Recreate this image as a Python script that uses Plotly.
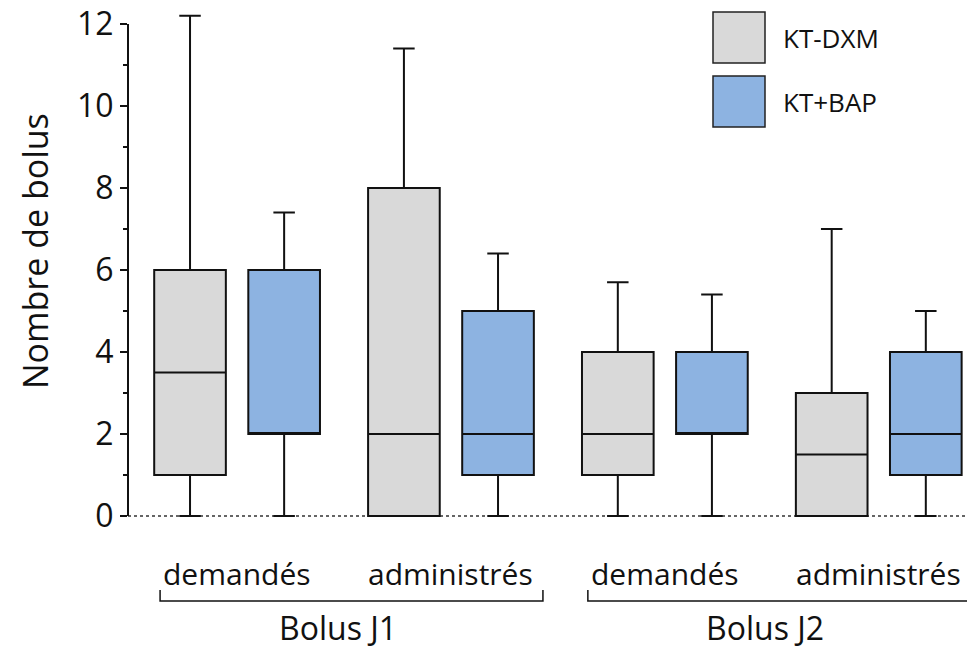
import plotly.graph_objects as go

# ---- data ----
groups = ["Bolus J1", "Bolus J2"]
subcats = ["demandés", "administrés"]
series_names = ["KT-DXM", "KT+BAP"]
# order: J1 demandés, J1 administrés, J2 demandés, J2 administrés
dxm_low = [0, 0, 0, 0]
dxm_q1 = [1, 0, 1, 0]
dxm_med = [3.5, 2, 2, 1.5]
dxm_q3 = [6, 8, 4, 3]
dxm_high = [12.2, 11.4, 5.7, 7.0]

bap_low = [0, 0, 0, 0]
bap_q1 = [2, 1, 2, 1]
bap_med = [2, 2, 2, 2]
bap_q3 = [6, 5, 4, 4]
bap_high = [7.4, 6.4, 5.4, 5.0]

y_ticks = [0, 2, 4, 6, 8, 10, 12]

colors = ["#D9D9D9", "#8DB3E1"]
FONT = "Open Sans"
TXT = "#111111"

# numeric positions of the sub-categories
centers = [1 + i for i in range(len(groups) * len(subcats))]
offset = 0.22
bw = 0.335

fig = go.Figure()
stats = [
    (dxm_low, dxm_q1, dxm_med, dxm_q3, dxm_high),
    (bap_low, bap_q1, bap_med, bap_q3, bap_high),
]
for k, (lo, q1, med, q3, hi) in enumerate(stats):
    xs = [c + (offset if k else -offset) for c in centers]
    fig.add_trace(go.Box(
        x=xs, q1=q1, median=med, q3=q3, lowerfence=lo, upperfence=hi,
        name=series_names[k], fillcolor=colors[k],
        line=dict(color=TXT, width=2), width=bw, whiskerwidth=0.3,
        boxpoints=False, showlegend=False, hoverinfo="skip",
    ))

# plot area: 510 px tall (paper units), 847 px wide
PH, PW = 510.0, 847.0

def py(page_y):
    # page pixel y -> paper y (plot bottom is at page y 518)
    return (518 - page_y) / PH

def px(page_x):
    return (page_x - 128) / PW

shapes = []
annotations = []
# zero dotted line
shapes.append(dict(type="line", xref="paper", yref="y", x0=0, x1=1, y0=0, y1=0,
                   line=dict(color="#333333", width=1.5, dash="dot"), layer="below"))
# y axis line
shapes.append(dict(type="line", xref="paper", yref="y", x0=0, x1=0, y0=0, y1=12,
                   line=dict(color=TXT, width=2)))

# sub-category labels
for i, c in enumerate(centers):
    annotations.append(dict(x=c, y=py(573), xref="x", yref="paper", yanchor="middle",
                            text=subcats[i % len(subcats)], showarrow=False,
                            font=dict(family=FONT, size=30, color=TXT)))
# brackets and group labels
for g, gname in enumerate(groups):
    left = centers[g * 2] - 0.36
    right = centers[g * 2 + 1] + 0.43
    mid = (centers[g * 2] + centers[g * 2 + 1]) / 2 - 0.03
    annotations.append(dict(x=mid, y=py(651), xref="x", yref="paper", yanchor="bottom",
                            text=gname, showarrow=False,
                            font=dict(family=FONT, size=32, color=TXT)))
    shapes.append(dict(type="path", xref="x", yref="paper",
                       path=f"M {left},{py(590)} L {left},{py(601)} L {right},{py(601)} L {right},{py(590)}",
                       line=dict(color=TXT, width=1.5)))

# y-axis title
annotations.append(dict(x=px(35), y=py(251), xref="paper", yref="paper", textangle=-90,
                        text="Nombre de bolus", showarrow=False, xanchor="center", yanchor="middle",
                        font=dict(family=FONT, size=34, color=TXT)))

# manual legend
for i, (nm, col) in enumerate(zip(series_names, colors)):
    top = 12 + i * 64
    bot = top + 51
    shapes.append(dict(type="rect", xref="paper", yref="paper",
                       x0=px(713), x1=px(765), y0=py(bot), y1=py(top),
                       fillcolor=col, line=dict(color="#222222", width=1.5)))
    annotations.append(dict(xref="paper", yref="paper", x=px(781), y=py((top + bot) / 2),
                            text=nm, showarrow=False, xanchor="left", yanchor="middle",
                            font=dict(family=FONT, size=26, color=TXT)))

fig.update_layout(
    width=967, height=642,
    margin=dict(l=120, r=0, t=0, b=132, autoexpand=False),
    paper_bgcolor="white", plot_bgcolor="white",
    font=dict(family=FONT, color=TXT),
    xaxis=dict(range=[0.49, 4.45], showgrid=False, zeroline=False, showline=False,
               showticklabels=False, ticks="", automargin=False),
    yaxis=dict(range=[-0.05, 12.39], showgrid=False, zeroline=False, showline=False,
               automargin=False,
               tickvals=y_ticks, ticks="outside", ticklen=7, tickwidth=2, tickcolor=TXT,
               ticklabeloverflow="allow",
               tickfont=dict(family=FONT, size=32, color=TXT),
               minor=dict(ticks="outside", ticklen=4, tickwidth=1.5, tickcolor=TXT, dtick=1)),
    shapes=shapes, annotations=annotations,
)

fig.write_html("out.html")
